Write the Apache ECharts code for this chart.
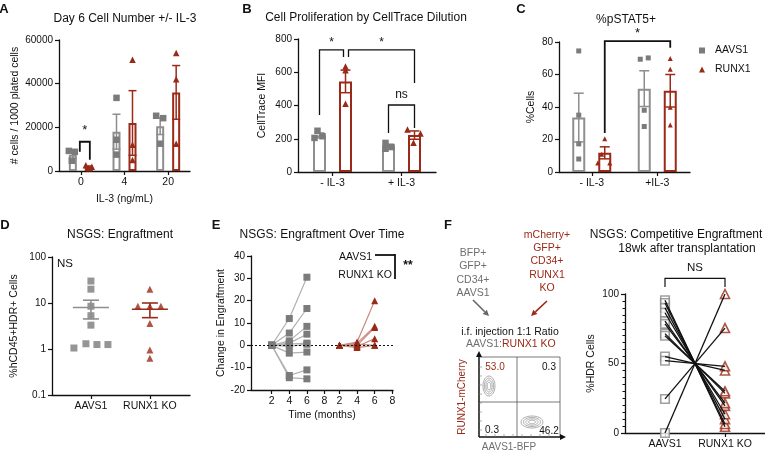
<!DOCTYPE html>
<html><head><meta charset="utf-8">
<script src="https://cdn.jsdelivr.net/npm/echarts@6/dist/echarts.min.js"></script>
<style>html,body{margin:0;padding:0;background:#fff}#c{width:765px;height:452px}</style>
</head><body><div id="c"></div>
<script>
// ================= DATA =================
// A: Day 6 cell number
const aCats = ['0', '4', '20'];
const aAavsMean = [7500, 18000, 20500];
const aAavsSem = [1800, 8000, 3800];
const aRunxMean = [1800, 22000, 36000];
const aRunxSem = [500, 14800, 12300];
const aAavsPts = [[9200, 8800, 4700], [33500, 14300, 7500], [25300, 24200, 12500]];
const aRunxPts = [[2600, 1900, 1300], [51000, 12000, 5000], [54000, 42000, 12500]];
// B: CellTrace MFI
const bCats = ['- IL-3', '+ IL-3'];
const bAavsMean = [220, 155];
const bAavsSem = [15, 12];
const bRunxMean = [545, 222];
const bRunxSem = [68, 25];
const bAavsPts = [[248, 215, 205], [175, 150, 140]];
const bRunxPts = [[635, 612, 410], [256, 232, 176]];
// C: %pSTAT5+
const cCats = ['- IL-3', '+IL-3'];
const cAavsMean = [33.5, 51.3];
const cAavsSem = [15, 11];
const cRunxMean = [11.8, 50];
const cRunxSem = [3.7, 10];
const cAavsPts = [[74.5, 35, 17.3, 8], [69.4, 70.2, 38, 28]];
const cRunxPts = [[20.4, 11, 5.5, 5.5], [69.8, 63.3, 39.8, 29]];
// D: engraftment (log)
const dGroups = ['AAVS1', 'RUNX1 KO'];
const dAavs = [30, 20, 8.5, 5.3, 3.3, 1.05, 1.3, 1.25, 1.25];
const dRunx = [20, 8.5, 8.5, 8.5, 3.6, 0.95, 0.63];
const dMean = [8, 7.3];
const dSemLo = [4.5, 4.8];
const dSemHi = [11.5, 10];
// E: engraftment over time
const eMonths = [2, 4, 6];
const eAavs = [[0, 12, 30.5], [0, 5.5, 16.5], [0, 2, 8.5], [0, 1, 5], [0, 0.5, 1], [0, -0.5, 0.5], [0, -3.5, -3], [0, -13.5, -11], [0, -14.5, -15]];
const eRunx = [[0, 1.5, 20], [0, 1, 8.5], [0, 0, 8], [0, -0.5, 3], [0, -1, 0], [0, 0.5, 0]];
const eTickMonths = [2, 4, 6, 8];
// F: competitive engraftment (paired)
const fGroups = ['AAVS1', 'RUNX1 KO'];
const fAavs = [95.5, 93.5, 90, 86.5, 80.5, 78.5, 71.5, 70, 55, 52, 24.5, 0];
const fRunx = [4.5, 6.5, 10, 13.5, 19.5, 21.5, 28.5, 30, 45, 48, 75.5, 100];
// flow quadrant values
const flowQuad = ['53.0', '0.3', '0.3', '46.2'];
// significance annotations
const aSig = [{x1: 0, x2: 0, top: 13400, b1: 8800, b2: 5200, label: '*', ly: 18500}];
const bSig = [{x1: 0, x2: 0, top: 734, b1: 343, b2: 692, label: '*', ly: 775},
              {x1: 0, x2: 1, top: 734, b1: 692, b2: 535, label: '*', ly: 775},
              {x1: 1, x2: 1, top: 403, b1: 235, b2: 265, label: 'ns', ly: 463}];
const cSig = [{x1: 0, x2: 1, top: 80.6, b1: 24, b2: 76.5, label: '*', ly: 85}];
const fSig = [{x1: 1, x2: 2, top: 111.2, b1: 105, b2: 105, label: 'NS', ly: 119}];

// ================= STYLE / LAYOUT =================
const FF = '"Liberation Sans", Arial, Helvetica, sans-serif';
const INK = '#111';
const GRAY = '#8e8e8e', GRAYPT = '#7b7b7b', RED = '#9a2a17', REDLINE = '#c98a7e', GRAYLINE = '#b0b0b0', TXTGRAY = '#6f6f6f';
// pixel offsets (jitter) of points inside their group
const aJitG = [[-4, 2, -1], [0, 0, 0], [-4, 3, 0]], aJitR = [[-3, 3, 0], [0, 0, 0], [0, 0, 0]];
const bJitG = [[-2, 3, -5], [-3, 3, -3]], bJitR = [[0, 0, 0], [-7, 6, -1]];
const cJitG = [[0, 0, 0, 0], [-4, 4, 0, 0]], cJitR = [[0, -3, -7, 5], [0, 0, 0, 0]];
const dJitG = [0, 0, 0, 0, 0, -17, -5, 6, 17], dJitR = [0, -12, 0, 11, 0, 0, 0];
const eOffset = 7.7; // second block shift on the shared time axis

function merge(a, b) {
  const o = Array.isArray(a) ? a.slice() : Object.assign({}, a);
  for (const k in b) {
    if (b[k] && typeof b[k] === 'object' && !Array.isArray(b[k]) && a[k] && typeof a[k] === 'object') o[k] = merge(a[k], b[k]);
    else o[k] = b[k];
  }
  return o;
}
const baseAxis = {
  axisLine: {show: true, onZero: false, lineStyle: {color: INK, width: 1.3}},
  axisTick: {show: true, length: 4, lineStyle: {color: INK, width: 1.2}},
  axisLabel: {color: INK, fontSize: 10, fontFamily: FF, margin: 6},
  splitLine: {show: false},
  nameLocation: 'middle',
  nameTextStyle: {color: INK, fontSize: 10.5, fontFamily: FF}
};
const ax = (e) => merge(baseAxis, e);

const grid = [
  {left: 59, top: 40, width: 131, height: 131},
  {left: 298, top: 39, width: 138, height: 133},
  {left: 559, top: 42, width: 131, height: 130},
  {left: 52, top: 257, width: 138, height: 138},
  {left: 251, top: 256, width: 142, height: 134},
  {left: 625, top: 294, width: 140, height: 139}
].map(g => Object.assign({containLabel: false, outerBoundsMode: 'none'}, g));

const xAxis = [
  ax({type: 'category', gridIndex: 0, data: aCats, axisTick: {alignWithLabel: true}, axisLabel: {fontSize: 10.5}, name: 'IL-3 (ng/mL)', nameGap: 23}),
  ax({type: 'category', gridIndex: 1, data: bCats, axisTick: {alignWithLabel: true}, axisLabel: {fontSize: 10.5}}),
  ax({type: 'category', gridIndex: 2, data: cCats, axisTick: {alignWithLabel: true}, axisLabel: {fontSize: 10.5}}),
  ax({type: 'value', gridIndex: 3, min: 0.34, max: 2.68, axisTick: {customValues: [1, 2]},
      axisLabel: {fontSize: 10.5, customValues: [1, 2], formatter: v => dGroups[Math.round(v) - 1]}}),
  ax({type: 'value', gridIndex: 4, min: -0.35, max: 15.78, name: 'Time (months)', nameGap: 20,
      axisTick: {customValues: eTickMonths.concat(eTickMonths.map(m => m + eOffset))},
      axisLabel: {fontSize: 10.5, customValues: eTickMonths.concat(eTickMonths.map(m => m + eOffset)),
                  formatter: v => String(Math.round(v > 8.5 ? v - eOffset : v))}}),
  ax({type: 'value', gridIndex: 5, min: 1 / 3, max: 8 / 3, axisTick: {customValues: [1, 2]},
      axisLabel: {fontSize: 10.5, customValues: [1, 2], formatter: v => fGroups[Math.round(v) - 1]}})
];
const yAxis = [
  ax({type: 'value', gridIndex: 0, min: 0, max: 60000, interval: 20000, axisLabel: {formatter: v => String(v)}, name: '# cells / 1000 plated cells', nameGap: 38}),
  ax({type: 'value', gridIndex: 1, min: 0, max: 800, interval: 200, name: 'CellTrace MFI', nameGap: 30}),
  ax({type: 'value', gridIndex: 2, min: 0, max: 80, interval: 20, name: '%Cells', nameGap: 22}),
  ax({type: 'log', gridIndex: 3, min: 0.1, max: 100, logBase: 10, axisLabel: {formatter: v => String(+v.toPrecision(3))}, name: '%hCD45+HDR+ Cells', nameGap: 32}),
  ax({type: 'value', gridIndex: 4, min: -20, max: 40, interval: 10, name: 'Change in Engraftment', nameGap: 20}),
  ax({type: 'value', gridIndex: 5, min: 0, max: 100, interval: 50, minorTick: {show: true, splitNumber: 10, length: 2.5, lineStyle: {color: INK, width: 1}}, name: '%HDR Cells', nameGap: 28})
];

const series = [];
function bars(name, i, data, color, bw) {
  series.push({type: 'bar', name, xAxisIndex: i, yAxisIndex: i, data, barWidth: bw, barGap: '100%', z: 2,
    itemStyle: {color: '#fff', borderColor: color, borderWidth: 2}, emphasis: {disabled: true}});
}
function errBars(name, i, means, sems, off, color, cap) {
  series.push({type: 'custom', name, xAxisIndex: i, yAxisIndex: i, z: 3, silent: true,
    data: means.map((m, k) => [k, m, m - sems[k], m + sems[k]]), encode: {x: 0, y: 1},
    renderItem: (p, api) => {
      const k = api.value(0);
      const lo = api.coord([k, api.value(2)]), hi = api.coord([k, api.value(3)]);
      const x = lo[0] + off, st = {stroke: color, lineWidth: 1.5};
      return {type: 'group', children: [
        {type: 'line', shape: {x1: x, y1: lo[1], x2: x, y2: hi[1]}, style: st},
        {type: 'line', shape: {x1: x - cap, y1: hi[1], x2: x + cap, y2: hi[1]}, style: st},
        {type: 'line', shape: {x1: x - cap, y1: lo[1], x2: x + cap, y2: lo[1]}, style: st}]};
    }});
}
function pts(name, i, groups, jit, off, symbol, color, size) {
  const data = [];
  groups.forEach((arr, k) => arr.forEach((v, j) => data.push({value: [k, v], symbolOffset: [off + jit[k][j], 0]})));
  series.push({type: 'scatter', name, xAxisIndex: i, yAxisIndex: i, data, symbol, symbolSize: size, z: 4,
    itemStyle: {color, opacity: 1}, emphasis: {disabled: true}});
}
function sig(name, i, list, off1, off2, lw, fs) {
  series.push({type: 'custom', name, xAxisIndex: i, yAxisIndex: i, z: 5, silent: true, clip: false,
    data: list.map(b => [b.x1, b.top]), encode: {x: 0, y: 1},
    renderItem: (p, api) => {
      const b = list[p.dataIndex], o = off1[p.dataIndex], q = off2[p.dataIndex];
      const L = api.coord([b.x1, b.b1]), T1 = api.coord([b.x1, b.top]), R = api.coord([b.x2, b.b2]), T2 = api.coord([b.x2, b.top]), LB = api.coord([b.x1, b.ly]);
      const xl = L[0] + o, xr = R[0] + q;
      return {type: 'group', children: [
        {type: 'polyline', shape: {points: [[xl, L[1]], [xl, T1[1]], [xr, T2[1]], [xr, R[1]]]}, style: {stroke: INK, lineWidth: lw, fill: null}},
        {type: 'text', style: {text: b.label, x: (xl + xr) / 2, y: LB[1], align: 'center', verticalAlign: 'middle', fill: INK, fontSize: fs, fontFamily: FF}}]};
    }});
}

// ---- A ----
bars('A AAVS1 bar', 0, aAavsMean, GRAY, 8);
bars('A RUNX1 bar', 0, aRunxMean, RED, 8);
errBars('A AAVS1 err', 0, aAavsMean, aAavsSem, -8, GRAY, 4);
errBars('A RUNX1 err', 0, aRunxMean, aRunxSem, 8, RED, 4);
pts('A AAVS1 pts', 0, aAavsPts, aJitG, -8, 'rect', GRAYPT, 6.5);
pts('A RUNX1 pts', 0, aRunxPts, aJitR, 8, 'triangle', RED, 6.5);
sig('A sig', 0, aSig, [-1], [9], 1.8, 13);
// ---- B ----
bars('B AAVS1 bar', 1, bAavsMean, GRAY, 13);
bars('B RUNX1 bar', 1, bRunxMean, RED, 13);
errBars('B AAVS1 err', 1, bAavsMean, bAavsSem, -13, GRAY, 5);
errBars('B RUNX1 err', 1, bRunxMean, bRunxSem, 13, RED, 5);
pts('B AAVS1 pts', 1, bAavsPts, bJitG, -13, 'rect', GRAYPT, 6.5);
pts('B RUNX1 pts', 1, bRunxPts, bJitR, 13, 'triangle', RED, 6.5);
sig('B sig', 1, bSig, [-13, 16, -13], [11, 13, 13], 1.3, 12);
// ---- C ----
bars('C AAVS1 bar', 2, cAavsMean, GRAY, 13);
bars('C RUNX1 bar', 2, cRunxMean, RED, 13);
errBars('C AAVS1 err', 2, cAavsMean, cAavsSem, -13, GRAY, 5);
errBars('C RUNX1 err', 2, cRunxMean, cRunxSem, 13, RED, 5);
pts('AAVS1', 2, cAavsPts, cJitG, -13, 'rect', GRAYPT, 5);
pts('RUNX1', 2, cRunxPts, cJitR, 13, 'triangle', RED, 5);
sig('C sig', 2, cSig, [13], [13], 1.8, 13);
// ---- D ----
series.push({type: 'scatter', name: 'D AAVS1', xAxisIndex: 3, yAxisIndex: 3, symbol: 'rect', symbolSize: 7, z: 3,
  itemStyle: {color: GRAYPT}, data: dAavs.map((v, j) => ({value: [1, v], symbolOffset: [dJitG[j], 0]}))});
series.push({type: 'scatter', name: 'D RUNX1', xAxisIndex: 3, yAxisIndex: 3, symbol: 'triangle', symbolSize: 7, z: 3,
  itemStyle: {color: RED}, data: dRunx.map((v, j) => ({value: [2, v], symbolOffset: [dJitR[j], 0]}))});
series.push({type: 'custom', name: 'D mean', xAxisIndex: 3, yAxisIndex: 3, z: 4, silent: true,
  data: dMean.map((m, k) => [k + 1, m, dSemLo[k], dSemHi[k]]), encode: {x: 0, y: 1},
  renderItem: (p, api) => {
    const g = api.value(0), c = p.dataIndex === 0 ? GRAY : RED;
    const m = api.coord([g, api.value(1)]), lo = api.coord([g, api.value(2)]), hi = api.coord([g, api.value(3)]);
    const st = {stroke: c, lineWidth: 1.6};
    return {type: 'group', children: [
      {type: 'line', shape: {x1: m[0] - 18, y1: m[1], x2: m[0] + 18, y2: m[1]}, style: st},
      {type: 'line', shape: {x1: m[0], y1: lo[1], x2: m[0], y2: hi[1]}, style: st},
      {type: 'line', shape: {x1: m[0] - 8, y1: lo[1], x2: m[0] + 8, y2: lo[1]}, style: st},
      {type: 'line', shape: {x1: m[0] - 8, y1: hi[1], x2: m[0] + 8, y2: hi[1]}, style: st}]};
  }});
// ---- E ----
eAavs.forEach((row, k) => series.push({type: 'line', name: 'E AAVS1 ' + k, xAxisIndex: 4, yAxisIndex: 4, z: 3,
  data: row.map((v, j) => [eMonths[j], v]), symbol: 'rect', symbolSize: 7, showSymbol: true,
  lineStyle: {color: GRAYLINE, width: 1.2}, itemStyle: {color: GRAYPT}, emphasis: {disabled: true},
  markLine: k === 0 ? {silent: true, symbol: 'none', label: {show: false}, data: [{yAxis: 0}], lineStyle: {color: INK, type: [2, 2], width: 1.2}} : undefined}));
eRunx.forEach((row, k) => series.push({type: 'line', name: 'E RUNX1 ' + k, xAxisIndex: 4, yAxisIndex: 4, z: 3,
  data: row.map((v, j) => [eMonths[j] + eOffset, v]), symbol: 'triangle', symbolSize: 7, showSymbol: true,
  lineStyle: {color: REDLINE, width: 1.2}, itemStyle: {color: RED}, emphasis: {disabled: true}}));
// ---- F ----
series.push({type: 'scatter', name: 'F AAVS1', xAxisIndex: 5, yAxisIndex: 5, symbol: 'rect', symbolSize: 8.5, z: 2,
  itemStyle: {color: '#fff', borderColor: '#888', borderWidth: 1.6}, data: fAavs.map(v => [1, v])});
series.push({type: 'scatter', name: 'F RUNX1', xAxisIndex: 5, yAxisIndex: 5, symbol: 'triangle', symbolSize: 9, z: 2,
  itemStyle: {color: '#fff', borderColor: RED, borderWidth: 1.6}, data: fRunx.map(v => [2, v])});
fAavs.forEach((v, k) => series.push({type: 'line', name: 'F pair ' + k, xAxisIndex: 5, yAxisIndex: 5, z: 3,
  data: [[1, v], [2, fRunx[k]]], symbol: 'none', lineStyle: {color: INK, width: 1.3}, emphasis: {disabled: true}}));
sig('F sig', 5, fSig, [0], [0], 1.2, 11.5);

// ================= GRAPHIC (titles, annotations, schematic) =================
const G = [];
const T = (x, y, text, o = {}) => G.push({type: 'text', x, y, rotation: o.rot || 0, silent: true,
  style: {text, fill: o.color || INK, fontSize: o.size || 12, fontWeight: o.bold ? 'bold' : 'normal', fontFamily: FF,
          align: o.align || 'center', verticalAlign: 'middle'}});
const L = (x1, y1, x2, y2, c = INK, w = 1) => G.push({type: 'line', silent: true, shape: {x1, y1, x2, y2}, style: {stroke: c, lineWidth: w}});
function arrow(x1, y1, x2, y2, c, w, h) {
  const a = Math.atan2(y2 - y1, x2 - x1), bx = x2 - h * Math.cos(a), by = y2 - h * Math.sin(a);
  L(x1, y1, bx, by, c, w);
  G.push({type: 'polygon', silent: true, shape: {points: [[x2, y2], [bx + h * 0.5 * Math.sin(a), by - h * 0.5 * Math.cos(a)], [bx - h * 0.5 * Math.sin(a), by + h * 0.5 * Math.cos(a)]]}, style: {fill: c}});
}
// panel letters
[['A', 4, 9], ['B', 247, 9], ['C', 521, 9], ['D', 5, 225], ['E', 216, 225], ['F', 448, 225]].forEach(l => T(l[1], l[2], l[0], {bold: true, size: 13}));
// titles
T(125, 19, 'Day 6 Cell Number +/- IL-3');
T(366, 18, 'Cell Proliferation by CellTrace Dilution');
T(626, 20, '%pSTAT5+');
T(120, 235, 'NSGS: Engraftment');
T(322, 235, 'NSGS: Engraftment Over Time');
T(676, 235, 'NSGS: Competitive Engraftment');
T(687, 249, '18wk after transplantation');
// D annotation
T(57, 264, 'NS', {align: 'left', size: 11.5});
// E annotation
T(372, 257, 'AAVS1', {align: 'right', size: 10.5});
T(392, 275, 'RUNX1 KO', {align: 'right', size: 10.5});
L(375, 255, 395, 255, INK, 1.8); L(395, 254, 395, 279, INK, 1.8);
T(408, 266, '**', {size: 12, bold: true});
// F schematic
['BFP+', 'GFP+', 'CD34+', 'AAVS1'].forEach((t, k) => T(473, 253 + k * 13.5, t, {color: TXTGRAY, size: 10.5}));
['mCherry+', 'GFP+', 'CD34+', 'RUNX1', 'KO'].forEach((t, k) => T(547, 235 + k * 13.3, t, {color: RED, size: 10.5}));
arrow(473, 300, 489, 316, '#666', 1.6, 6);
arrow(547, 301, 531, 316, RED, 1.6, 6);
T(510, 332, 'i.f. injection 1:1 Ratio', {size: 10.5});
T(502, 344, 'AAVS1:', {align: 'right', color: TXTGRAY, size: 10.5});
T(502, 344, 'RUNX1 KO', {align: 'left', color: RED, size: 10.5});
// flow plot box
L(480, 357, 560, 357, '#555', 0.8); L(560, 357, 560, 437, '#555', 0.8);
L(517, 357, 517, 437, '#555', 0.8); L(479, 402, 560, 402, '#555', 0.8);
arrow(479, 437, 479, 351, INK, 1.5, 6);
arrow(479, 437, 566, 437, INK, 1.5, 6);
for (let k = 0; k < 8; k++) { L(479, 430 - k * 9, 482, 430 - k * 9, '#777', 0.6); L(486 + k * 9, 434, 486 + k * 9, 437, '#777', 0.6); }
[[6, 10], [4.6, 8], [3.2, 6], [1.8, 4]].forEach(r => G.push({type: 'ellipse', silent: true, shape: {cx: 489, cy: 386, rx: r[0], ry: r[1]}, style: {fill: null, stroke: '#9a9a9a', lineWidth: 0.8}}));
[[11, 6], [8.5, 4.6], [6, 3.2], [3.5, 1.8]].forEach(r => G.push({type: 'ellipse', silent: true, shape: {cx: 532, cy: 422, rx: r[0], ry: r[1]}, style: {fill: null, stroke: '#9a9a9a', lineWidth: 0.8}}));
T(495, 367, flowQuad[0], {color: RED, size: 10});
T(549, 367, flowQuad[1], {size: 10});
T(492, 430, flowQuad[2], {size: 10});
T(549, 431, flowQuad[3], {size: 10});
T(509, 447, 'AAVS1-BFP', {color: TXTGRAY, size: 10});
T(462, 397, 'RUNX1-mCherry', {color: RED, size: 10, rot: Math.PI / 2});

const option = {
  backgroundColor: '#fff',
  animation: false,
  textStyle: {fontFamily: FF},
  grid, xAxis, yAxis, series,
  legend: {show: true, data: ['AAVS1', 'RUNX1'], orient: 'vertical', left: 699, top: 45, itemWidth: 6, itemHeight: 6, itemGap: 8,
           selectedMode: false, padding: 0, textStyle: {fontSize: 10.5, color: INK, fontFamily: FF, padding: [0, 0, 0, 5]}},
  graphic: G
};
const chart = echarts.init(document.getElementById('c'), null, {renderer: 'canvas'});
chart.setOption(option);
</script>
</body></html>
